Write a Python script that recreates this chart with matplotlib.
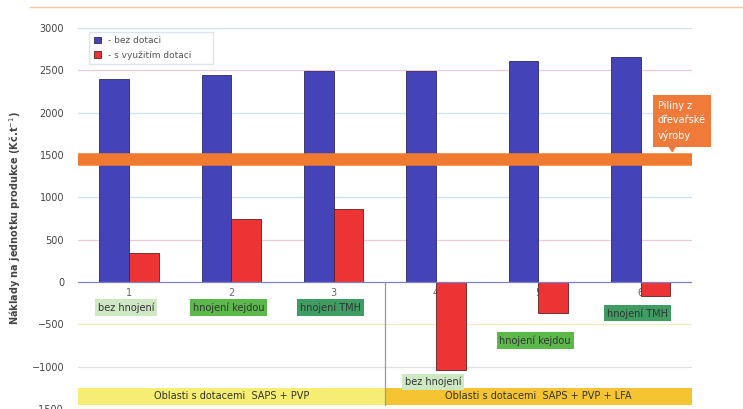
import numpy as np
import matplotlib.pyplot as plt
from matplotlib.patches import Polygon

## the data
cats = ['1', '2', '3', '4', '5', '6']
bez_dotaci = [2400, 2450, 2490, 2495, 2610, 2655]
s_dotaci = [340, 740, 860, -1040, -370, -165]
hnojeni = ['bez hnojení', 'hnojení kejdou', 'hnojení TMH',
           'bez hnojení', 'hnojení kejdou', 'hnojení TMH']
hnojeni_y = [-300, -300, -300, -1180, -690, -370]
hnojeni_col = ['#cfe8c4', '#5cb84a', '#3f9d63', '#cfe8c4', '#5cb84a', '#3f9d63']
oblasti = ['Oblasti s dotacemi  SAPS + PVP', 'Oblasti s dotacemi  SAPS + PVP + LFA']
oblasti_col = ['#f6ee72', '#f5c433']
piliny = 1450

fig = plt.figure(figsize=(7.43, 4.09), dpi=100)
ax = fig.add_axes([0.105, 0.0, 0.826, 0.9315])

ind = np.arange(1, len(cats) + 1)
width = 0.29

# gridlines
grid_cols = ['#cfe0f0', '#f2c8d8', '#cfe0f0', '#f0d8c8', '#cfe0f0', '#f2c8d8', '#cfe0f0', '#f0ecc0', '#e0e0e0', '#f2c8d8']
for v, c in zip(range(3000, -1501, -500), grid_cols):
    if v != 0:
        ax.axhline(v, color=c, lw=0.9, zorder=0)

rects1 = ax.bar(ind - width / 2, bez_dotaci, width, color='#4444b8',
                edgecolor='#2a2a60', lw=0.6, zorder=2)
rects2 = ax.bar(ind + width / 2, s_dotaci, width, color='#ec3434',
                edgecolor='#602020', lw=0.6, zorder=2)
ax.axhline(0, color='#8080c8', lw=0.9, zorder=3)

# orange band
ax.axhline(piliny, color='#f07a30', lw=9, zorder=4)
ax.text(6.17, 2140, 'Piliny z\ndřevařské\nvýroby', color='white', fontsize=7,
        va='top', ha='left', linespacing=1.55, zorder=6, clip_on=False,
        bbox=dict(boxstyle='square,pad=0.55', fc='#f07a3a', ec='none'))
ax.add_patch(Polygon([[6.26, 1640], [6.36, 1640], [6.31, 1540]], closed=True,
                     color='#f07a3a', zorder=5, clip_on=False))

# category numbers and fertilisation labels
for x, c in zip(ind, cats):
    ax.text(x, -130, c, ha='center', va='center', fontsize=7, color='#666666', zorder=1)
for x, t, y, c in zip(ind, hnojeni, hnojeni_y, hnojeni_col):
    ax.text(x - 0.03, y, t, ha='center', va='center', fontsize=7, color='#333333', zorder=5,
            bbox=dict(boxstyle='square,pad=0.3', fc=c, ec='none'))

# region bands
for i, (t, c) in enumerate(zip(oblasti, oblasti_col)):
    x0 = 0.5 + 3 * i
    ax.fill_between([x0, x0 + 3], -1450, -1250, color=c, lw=0, zorder=1)
    ax.text(x0 + 1.5, -1350, t, ha='center', va='center', fontsize=7, color='#333333', zorder=2)
ax.plot([3.5, 3.5], [0, -1450], color='#999999', lw=0.9, zorder=3)

# axes and labels
ax.set_xlim(0.5, 6.5)
ax.set_ylim(-1500, 3000)
ax.set_yticks(range(-1500, 3001, 500))
ax.set_xticks([])
ax.tick_params(axis='y', length=0, labelsize=7, labelcolor='#444444', pad=10)
for s in ax.spines.values():
    s.set_visible(False)
ax.set_ylabel('Náklady na jednotku produkce (Kč.t$^{-1}$)', fontsize=7,
              fontweight='bold', color='#444444', labelpad=6)

## legend
leg = ax.legend((rects1[0], rects2[0]), ('- bez dotaci', '- s využitím dotaci      '),
                loc='upper left', bbox_to_anchor=(0.012, 1.0), fontsize=6.5,
                handlelength=0.8, handleheight=0.8, fancybox=False,
                edgecolor='#dde4ee', framealpha=1, borderpad=0.5, labelspacing=0.6,
                borderaxespad=0.4)
for t in leg.get_texts():
    t.set_color('#555555')
leg._legend_box.align = 'left'
leg.set_zorder(7)

# page border line at top
fig.add_artist(plt.Line2D([0.04, 1.0], [0.982, 0.982], color='#f4c8a0', lw=1.0))

fig.savefig('out.png', dpi=100)
